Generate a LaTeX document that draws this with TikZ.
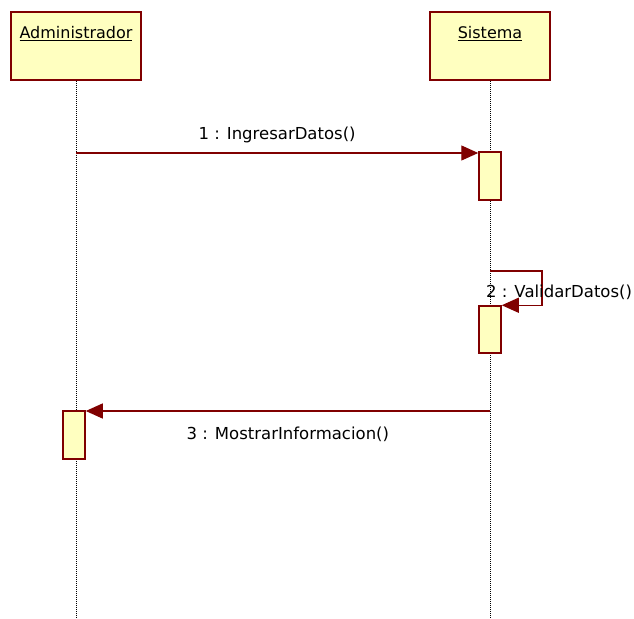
\documentclass[tikz,border=0pt]{standalone}
\usepackage{fontspec}
\setmainfont{DejaVu Sans}
\usetikzlibrary{positioning}
\usetikzlibrary{arrows.meta}
\definecolor{umlred}{RGB}{128,0,0}
\definecolor{umlfill}{RGB}{255,255,192}
\tikzset{
    actor/.style = {rectangle, draw=umlred, line width=1.5pt, fill=umlfill, inner ysep=0pt, text height=27pt, text depth=41pt, font=\fontsize{16}{19}\selectfont},
    activation/.style = {rectangle, draw=umlred, line width=1.5pt, fill=umlfill, minimum width=22pt, inner sep=0pt},
    lifeline/.style = {draw=black, line width=1pt, dash pattern=on 1pt off 1pt},
    msg/.style = {draw=umlred, line width=1.3pt, -{Triangle[length=17pt,width=15pt]}},
    msglabel/.style = {font=\fontsize{16.5}{20}\selectfont, inner sep=0pt}
}
\begin{document}
\begin{tikzpicture}[x=1pt,y=-1pt]
\useasboundingbox (0,0) rectangle (634,618);
%
\node[actor, minimum width=130pt] at (76, 46) (adm) {\underline{Administrador}};
\node[actor, minimum width=120pt] at (490, 46) (sis) {\underline{Sistema}};
\coordinate (admend) at (76, 618);
\coordinate (sisend) at (490, 618);
%
\draw[lifeline] (adm.south) -- (admend);
\draw[lifeline] (sis.south) -- (sisend);
%
\node[activation, minimum height=48pt] at (490, 176) (act1) {};
\node[activation, minimum height=47pt] at (490, 329.5) (act2) {};
\node[activation, minimum height=48pt] at (74, 435) (act3) {};
%
\coordinate (m1) at (76, 153);
\coordinate (m2) at (490, 271);
\coordinate (m3) at (490, 411);
%
\draw[msg] (m1) -- node[msglabel, above=9pt] (lbl1) {1 : IngresarDatos()} (m1 -| act1.west);
\draw[msg] (m2) -- ++(52, 0) |- (act2.north east);
\node[msglabel, anchor=west] at (486, 292) (lbl2) {2 : ValidarDatos()};
\draw[msg] (m3) -- node[msglabel, below=15pt] (lbl3) {3 : MostrarInformacion()} (m3 -| act3.east);

\end{tikzpicture}
\end{document}
